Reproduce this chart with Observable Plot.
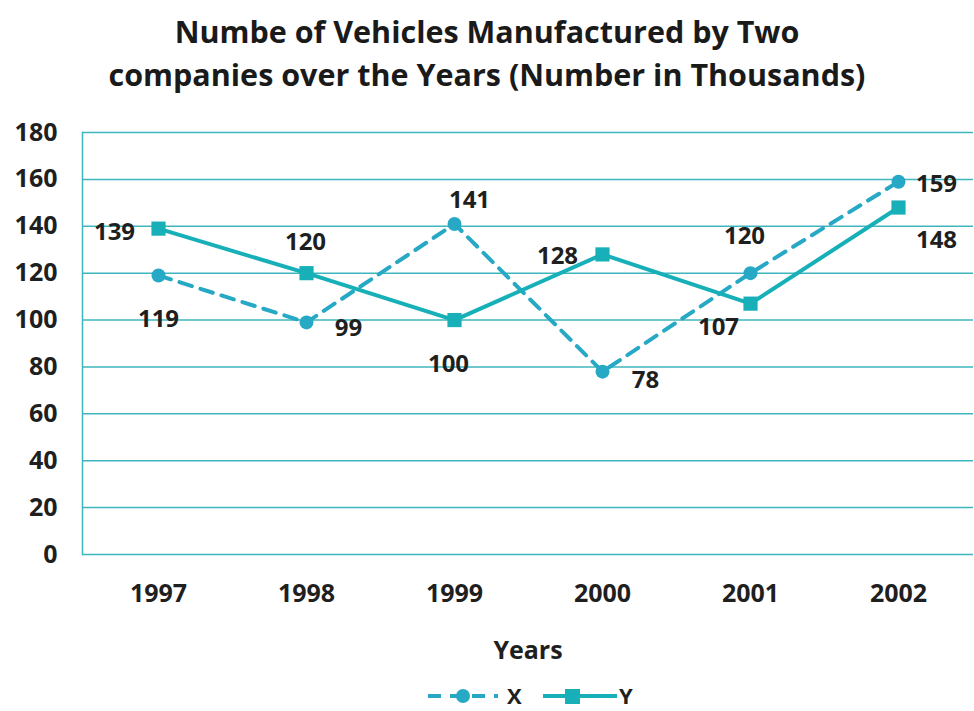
<!DOCTYPE html>
<html>
<head>
<meta charset="utf-8">
<script src="https://cdn.jsdelivr.net/npm/d3@7"></script>
<script src="https://cdn.jsdelivr.net/npm/@observablehq/plot@0.6"></script>
<style>
  body { margin: 0; background: #fff; font-family: "Open Sans", sans-serif; overflow: hidden; }
  #title { text-align: center; font-weight: 700; font-size: 30.5px; line-height: 43px; color: #1a1a1a; padding-top: 10px; height: 100px; box-sizing: border-box; white-space: nowrap; }
  #chart { height: 570px; }
  #chart svg { display: block; }
  #legend { height: 41px; }
  #legend svg { display: block; }
</style>
</head>
<body>
<div id="title">Numbe of Vehicles Manufactured by Two<br>companies over the Years (Number in Thousands)</div>
<div id="chart"></div>
<div id="legend"></div>
<script>
const years = ["1997", "1998", "1999", "2000", "2001", "2002"];
const seriesX = [119, 99, 141, 78, 120, 159];
const seriesY = [139, 120, 100, 128, 107, 148];
const yTicks = [0, 20, 40, 60, 80, 100, 120, 140, 160, 180];
const seriesNames = ["X", "Y"];

// label offsets (style only)
const offX = [[0, 44], [42, 6], [15, -24], [43, 9], [-6, -37], [38, 3]];
const offY = [[-44, 4], [-1, -31], [-6, 44], [-45, 2], [-32, 24], [38, 33]];

const colX = "#27a9c6";
const colY = "#17b0b8";
const grid = "#3fb6bd";
const ink = "#1f1f1f";

const dataX = years.map((y, i) => ({year: y, v: seriesX[i], dx: offX[i][0], dy: offX[i][1]}));
const dataY = years.map((y, i) => ({year: y, v: seriesY[i], dx: offY[i][0], dy: offY[i][1]}));

const labels = (data) => data.map(d =>
  Plot.text([d], {x: "year", y: "v", text: d => String(d.v), dx: d.dx, dy: d.dy,
    fill: ink, fontSize: 24, fontWeight: 700}));

const chart = Plot.plot({
  width: 974,
  height: 570,
  marginLeft: 82,
  marginRight: 1,
  marginTop: 32,
  marginBottom: 116,
  style: {fontFamily: "'Open Sans', sans-serif", background: "transparent", overflow: "visible"},
  x: {type: "point", domain: years, padding: 0.5, label: null},
  y: {domain: [0, 180], ticks: yTicks, label: null},
  marks: [
    Plot.ruleY(yTicks, {stroke: grid, strokeWidth: 1.5}),
    Plot.frame({anchor: "left", stroke: grid, strokeWidth: 1.5}),
    Plot.line(dataX, {x: "year", y: "v", stroke: colX, strokeWidth: 4, strokeDasharray: "13,9"}),
    Plot.line(dataY, {x: "year", y: "v", stroke: colY, strokeWidth: 4}),
    Plot.dot(dataX, {x: "year", y: "v", r: 7, fill: colX, stroke: "none"}),
    Plot.dot(dataY, {x: "year", y: "v", symbol: "square", r: 8, fill: colY, stroke: "none"}),
    ...labels(dataX),
    ...labels(dataY),
    Plot.axisX({tickSize: 0, tickPadding: 30, fontSize: 25, fontWeight: 700, fill: ink, label: null}),
    Plot.axisY({tickSize: 0, tickPadding: 25, fontSize: 25, fontWeight: 700, fill: ink, label: null, ticks: yTicks}),
    Plot.text(["Years"], {frameAnchor: "bottom", lineAnchor: "middle", dy: 96, fontSize: 25, fontWeight: 700, fill: ink})
  ]
});
chart.querySelectorAll("text").forEach(t => { t.style.fontWeight = "700"; });
document.getElementById("chart").appendChild(chart);

// legend (y center 26px into the block → page y ≈ 696)
const legend = document.getElementById("legend");
legend.innerHTML = `
<svg width="974" height="41" font-family="'Open Sans', sans-serif" font-weight="700" font-size="22" fill="${ink}">
  <line x1="428" y1="26" x2="498" y2="26" stroke="${colX}" stroke-width="4" stroke-dasharray="13,9"/>
  <circle cx="463" cy="26" r="7" fill="${colX}"/>
  <text x="507" y="26" dy="0.36em">${seriesNames[0]}</text>
  <line x1="543" y1="26" x2="617" y2="26" stroke="${colY}" stroke-width="4"/>
  <rect x="565" y="19" width="15" height="15" fill="${colY}"/>
  <text x="619" y="26" dy="0.36em">${seriesNames[1]}</text>
</svg>`;
</script>
</body>
</html>
